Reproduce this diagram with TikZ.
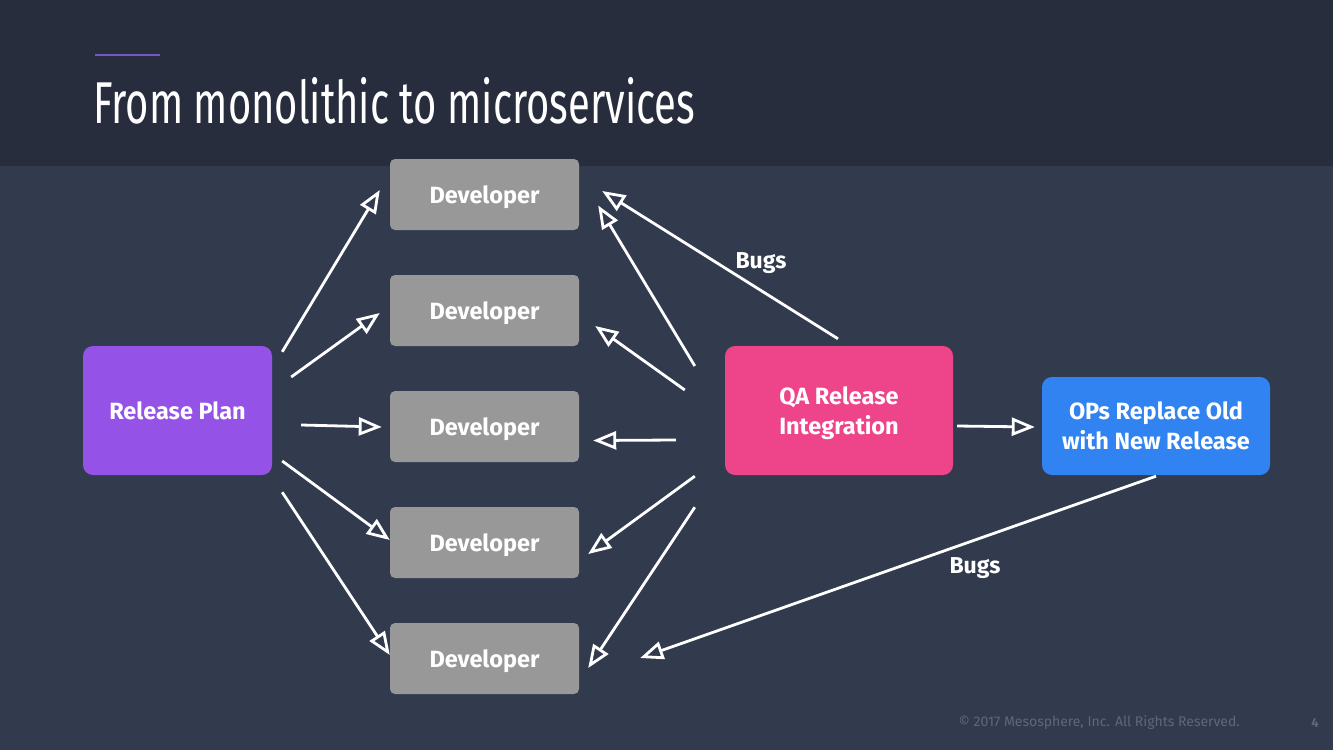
\documentclass[tikz,border=0pt]{standalone}
\usepackage{fontspec}
\setmainfont{Fira Sans}
\usepackage{xcolor}
\usetikzlibrary{arrows.meta,positioning}
\definecolor{topbg}{RGB}{40,45,62}
\definecolor{mainbg}{RGB}{50,58,78}
\definecolor{devgray}{RGB}{152,152,152}
\definecolor{planpurple}{RGB}{148,82,230}
\definecolor{qapink}{RGB}{238,68,137}
\definecolor{opsblue}{RGB}{48,131,240}
\definecolor{footgray}{RGB}{95,103,122}
\definecolor{rulepurple}{RGB}{120,86,200}

\begin{document}
\begin{tikzpicture}[x=1pt,y=-1pt,
  box/.style={text=white,font=\bfseries\fontsize{23.5}{30}\selectfont,align=center,inner sep=0pt,text depth=0pt},
  dev/.style={box,fill=devgray,minimum width=189pt,minimum height=71pt,rounded corners=5pt},
  stage/.style={box,rounded corners=10pt},
  arr/.style={draw=white,line width=2.8pt,-{Triangle[open,length=23pt,width=18pt]}},
  bugs/.style={text=white,font=\bfseries\fontsize{23}{25}\selectfont,inner sep=0pt}]
  % background and title band
  \useasboundingbox (0,0) rectangle (1333,750);
  \fill[mainbg] (0,0) rectangle (1333,750);
  \fill[topbg] (0,0) rectangle (1333,166);
  \draw[rulepurple,line width=1.8pt] (95,55) -- (160,55);
  \node[anchor=base west,inner sep=0pt,text=white] (title) at (93,123)
    {\scalebox{0.677}[1]{\fontsize{59}{60}\selectfont From monolithic to microservices}};

  % stages
  \node[stage,fill=planpurple,minimum width=189pt,minimum height=129pt] (plan) at (177.5,410.5) {Release Plan};
  \foreach \i/\y in {1/194.5,2/310.5,3/426.5,4/542.5,5/658.5}
    \node[dev] (dev\i) at (484.5,\y) {Developer};
  \node[stage,fill=qapink,minimum width=228pt,minimum height=129pt] (qa) at (839,410.5) {QA Release\\Integration};
  \node[stage,fill=opsblue,minimum width=228pt,minimum height=98pt] (ops) at (1156,426) {OPs Replace Old\\with New Release};

  % plan to developers
  \draw[arr] ([shift={(10,6)}]plan.north east) -- ([shift={(-10,-4.5)}]dev1.west);
  \draw[arr] ([shift={(19,-33.5)}]plan.east) -- ([shift={(-10,2.5)}]dev2.west);
  \draw[arr] ([shift={(29,14.5)}]plan.east) -- ([shift={(-8,0.5)}]dev3.west);
  \draw[arr] ([shift={(10,50.5)}]plan.east) -- ([shift={(0,-2.5)}]dev4.west);
  \draw[arr] ([shift={(10,17)}]plan.south east) -- ([shift={(0,-3.5)}]dev5.west);

  % qa back to developers
  \draw[arr] ([shift={(-30,-44.5)}]qa.west) -- ([shift={(19,11)}]dev1.east);
  \draw[arr] ([shift={(-40,-20.5)}]qa.west) -- ([shift={(16,15.5)}]dev2.east);
  \draw[arr] ([shift={(-49,29.5)}]qa.west) -- ([shift={(14,14)}]dev3.east);
  \draw[arr] ([shift={(-30,1)}]qa.south west) -- ([shift={(9,11.5)}]dev4.east);
  \draw[arr] ([shift={(-30,32)}]qa.south west) -- ([shift={(9,9.5)}]dev5.east);
  \draw[arr] ([shift={(-1,-7)}]qa.north) -- ([shift={(23,-3.5)}]dev1.east);
  \node[bugs] (bugs1) at (761,263) {Bugs};

  % release and bug reports
  \draw[arr] ([shift={(4,15.5)}]qa.east) -- ([shift={(-7,1)}]ops.west);
  \draw[arr] ([shift={(0,1)}]ops.south) -- ([shift={(61,-0.5)}]dev5.east);
  \node[bugs] (bugs2) at (975,568) {Bugs};

  % footer
  \node[anchor=base east,inner sep=0pt,text=footgray,font=\fontsize{14}{16}\selectfont] (copy) at (1240,726)
    {© 2017 Mesosphere, Inc. All Rights Reserved.};
  \node[anchor=base,inner sep=0pt,text=footgray,font=\bfseries\fontsize{13}{16}\selectfont] (page) at (1315,727) {4};
\end{tikzpicture}
\end{document}
